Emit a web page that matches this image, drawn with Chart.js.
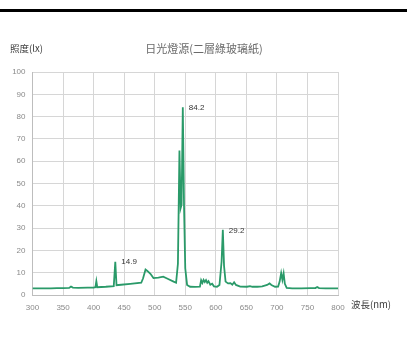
<!DOCTYPE html>
<html>
<head>
<meta charset="utf-8">
<script src="https://cdn.jsdelivr.net/npm/chart.js@4/dist/chart.umd.min.js"></script>
<style>
  html, body { margin: 0; padding: 0; background: #fff; }
  #wrap { position: relative; width: 407px; height: 341px; }
</style>
</head>
<body>
<div id="wrap"><canvas id="c" width="407" height="341"></canvas></div>
<script>
// 日光燈源(二層綠玻璃紙) — 波長 (nm) vs 照度 (lx)
const wavelengths = [
  300, 310, 320, 330, 340, 350, 360, 363, 366, 375, 390, 400, 403, 404.5, 406,
  420, 433, 435.5, 437.5, 445, 460, 478, 481, 485, 488, 493, 498, 506, 514, 522,
  531, 535, 538, 540.5, 542.5, 544, 546, 548, 550, 553, 558, 566, 574, 576, 578,
  580, 582, 584, 586, 588, 591, 594, 597, 602, 606, 609.5, 611.5, 613.5, 616, 620,
  624, 627, 630, 633, 640, 651, 656, 660, 668, 676, 684, 688, 691, 697, 702,
  704.5, 707, 709, 711, 713, 716, 725, 740, 755, 763, 766, 769, 780, 790, 800
];
const illuminance = [
  3.0, 3.0, 3.0, 3.0, 3.1, 3.1, 3.2, 3.8, 3.3, 3.2, 3.3, 3.3, 3.5, 6.2, 3.5,
  3.7, 4.0, 14.9, 4.4, 4.6, 5.0, 5.5, 7.5, 11.4, 10.8, 9.5, 7.6, 7.8, 8.2, 7.2,
  6.0, 5.5, 14.0, 64.8, 39.0, 40.5, 84.2, 40.0, 12.0, 4.5, 3.7, 3.6, 3.7, 6.6, 5.4,
  6.8, 5.8, 6.7, 5.5, 6.2, 4.6, 5.1, 3.9, 3.7, 4.5, 15.0, 29.2, 13.0, 6.0, 5.2,
  5.3, 4.6, 5.7, 4.5, 3.8, 3.7, 4.0, 3.7, 3.7, 3.9, 4.5, 5.2, 4.5, 3.7, 3.8,
  6.0, 9.8, 6.8, 9.7, 5.0, 3.2, 3.0, 3.0, 3.1, 3.1, 3.6, 3.1, 3.0, 3.0, 3.0
];
const xTickValues = [300, 350, 400, 450, 500, 550, 600, 650, 700, 750, 800];
const yTickValues = [0, 10, 20, 30, 40, 50, 60, 70, 80, 90, 100];
const labelledPeaks = [14.9, 84.2, 29.2];

const chartTitle = '日光燈源(二層綠玻璃紙)';
const yAxisTitle = '照度(lx)';
const xAxisTitle = '波長(nm)';

const tickFont = { family: "'Liberation Sans Narrow', 'Liberation Sans', sans-serif", size: 8 };
const cjkFamily = "'Noto Sans CJK TC', 'Noto Sans CJK SC', sans-serif";

// Page decoration, titles and peak value labels
const decorations = {
  id: 'decorations',
  beforeDraw(chart) {
    const ctx = chart.ctx;
    ctx.save();
    ctx.fillStyle = '#ffffff';
    ctx.fillRect(0, 0, chart.width, chart.height);
    ctx.fillStyle = '#000000';
    ctx.fillRect(0, 9, chart.width, 3);
    ctx.restore();
  },
  afterDraw(chart) {
    const ctx = chart.ctx;
    const area = chart.chartArea;
    ctx.save();
    ctx.textBaseline = 'middle';
    ctx.fillStyle = '#6a6a6a';
    ctx.font = '11px ' + cjkFamily;
    ctx.textAlign = 'center';
    ctx.fillText(chartTitle, chart.width / 2 + 0.5, 48.5);

    ctx.fillStyle = '#3c3c3c';
    ctx.font = '9.5px ' + cjkFamily;
    ctx.textAlign = 'left';
    ctx.fillText(yAxisTitle, 10, 48.5);
    ctx.fillText(xAxisTitle, area.right + 13, area.bottom + 9);

    // value labels beside the tagged peaks
    const meta = chart.getDatasetMeta(0);
    ctx.fillStyle = '#333333';
    ctx.font = '8px ' + tickFont.family;
    labelledPeaks.forEach(v => {
      const i = illuminance.indexOf(v);
      if (i < 0) return;
      const pt = meta.data[i];
      ctx.fillText(v.toFixed(1), pt.x + 6, pt.y + 0.5);
    });
    ctx.restore();
  }
};

new Chart(document.getElementById('c'), {
  type: 'line',
  data: {
    datasets: [{
      data: wavelengths.map((w, i) => ({ x: w, y: illuminance[i] })),
      borderColor: '#2a9a69',
      borderWidth: 1.8,
      pointRadius: 0,
      tension: 0,
      fill: false
    }]
  },
  options: {
    responsive: false,
    animation: false,
    devicePixelRatio: 1,
    layout: { padding: { left: 0, right: 69, top: 72, bottom: 26 } },
    plugins: { legend: { display: false }, title: { display: false }, tooltip: { enabled: false } },
    scales: {
      x: {
        type: 'linear',
        min: 300,
        max: 800,
        afterBuildTicks: s => { s.ticks = xTickValues.map(v => ({ value: v })); },
        afterFit: s => { s.height = 20; },
        grid: { color: '#d6d6d6', lineWidth: 1, drawTicks: false },
        border: { color: '#bdbdbd' },
        ticks: { color: '#8a8a8a', font: tickFont, padding: 8, maxRotation: 0, autoSkip: false }
      },
      y: {
        min: 0,
        max: 100,
        afterBuildTicks: s => { s.ticks = yTickValues.map(v => ({ value: v })); },
        afterFit: s => { s.width = 32.5; },
        grid: { color: '#d6d6d6', lineWidth: 1, drawTicks: false },
        border: { color: '#bdbdbd' },
        ticks: { color: '#8a8a8a', font: tickFont, padding: 7 }
      }
    }
  },
  plugins: [decorations]
});
</script>
</body>
</html>
